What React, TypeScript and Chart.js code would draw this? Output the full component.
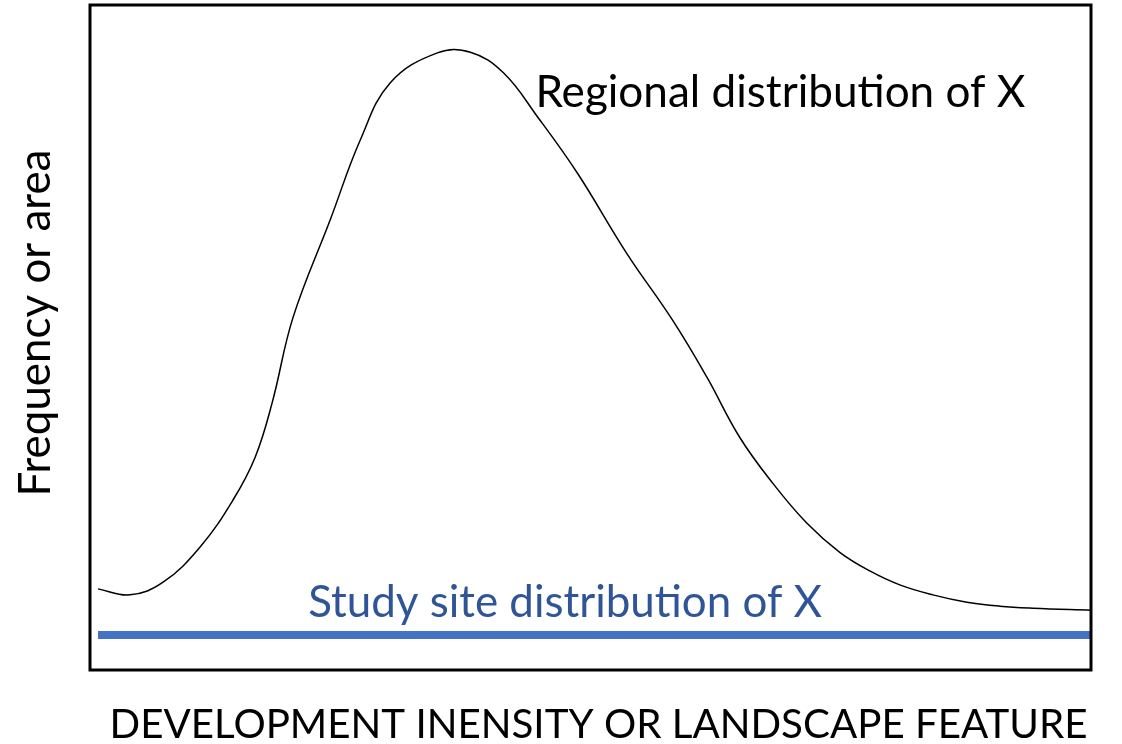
import React, { useEffect, useRef } from "react";
import { Chart, registerables } from "chart.js";

Chart.register(...registerables);

// Regional distribution curve (x: 0-100 development intensity, y: 0-100 relative frequency)
const regionalX = [0.8, 4.0, 7.3, 11.0, 14.3, 16.5, 18.2, 20.3, 24.0, 27.0, 30.0, 34.7, 38.0, 41.3, 44.7, 48.7, 53.6, 58.2, 61.6, 64.9, 68.2, 71.6, 74.9, 77.9, 80.9, 84.2, 87.6, 90.9, 94.2, 100];
const regionalY = [12.2, 11.3, 13.2, 18.5, 25.6, 32.0, 40.2, 53.1, 67.7, 79.7, 88.3, 92.8, 92.9, 89.8, 83.2, 74.7, 62.7, 52.6, 44.1, 35.0, 28.1, 22.1, 17.7, 14.9, 12.8, 11.3, 10.2, 9.6, 9.3, 9.0];

// Study site distribution (flat line)
const studyX = [0.8, 100];
const studyY = [5.26, 5.26];

const xTitle = "DEVELOPMENT INENSITY OR LANDSCAPE FEATURE";
const yTitle = "Frequency or area";
const regionalLabel = "Regional distribution of X";
const studyLabel = "Study site distribution of X";

const FONT = "Lato, 'Open Sans', sans-serif";

function fitFont(ctx: CanvasRenderingContext2D, text: string, target: number, base: number) {
  ctx.font = `${base}px ${FONT}`;
  const w = ctx.measureText(text).width;
  return (base * target) / w;
}

const textPlugin = {
  id: "textPlugin",
  afterDraw(chart: any) {
    const { ctx, chartArea, scales } = chart;
    ctx.save();
    // frame
    ctx.strokeStyle = "#000";
    ctx.lineWidth = 3;
    ctx.strokeRect(chartArea.left, chartArea.top, chartArea.right - chartArea.left, chartArea.bottom - chartArea.top);

    ctx.textBaseline = "alphabetic";
    ctx.textAlign = "left";
    // regional label
    let fs = fitFont(ctx, regionalLabel, 490, 40);
    ctx.font = `${fs}px ${FONT}`;
    ctx.fillStyle = "#000";
    ctx.fillText(regionalLabel, scales.x.getPixelForValue(44.5), scales.y.getPixelForValue(84.7));

    // study label
    fs = fitFont(ctx, studyLabel, 514, 40);
    ctx.font = `${fs}px ${FONT}`;
    ctx.fillStyle = "#2F5597";
    ctx.fillText(studyLabel, scales.x.getPixelForValue(21.8), scales.y.getPixelForValue(7.9));

    // x title
    ctx.textAlign = "center";
    fs = fitFont(ctx, xTitle, 978, 40);
    ctx.font = `${fs}px ${FONT}`;
    ctx.fillStyle = "#000";
    ctx.fillText(xTitle, (chartArea.left + chartArea.right) / 2 + 8, 738);

    // y title
    fs = fitFont(ctx, yTitle, 347, 40);
    ctx.font = `${fs}px ${FONT}`;
    ctx.translate(50, 323);
    ctx.rotate(-Math.PI / 2);
    ctx.fillText(yTitle, 0, 0);
    ctx.restore();
  },
};

export default function App() {
  const ref = useRef<HTMLCanvasElement | null>(null);
  useEffect(() => {
    if (!ref.current) return;
    const chart = new Chart(ref.current, {
      type: "line",
      data: {
        datasets: [
          {
            label: "Regional distribution of X",
            data: regionalX.map((x, i) => ({ x, y: regionalY[i] })),
            borderColor: "#000",
            borderWidth: 1.5,
            pointRadius: 0,
            tension: 0.4,
            fill: false,
          },
          {
            label: "Study site distribution of X",
            data: studyX.map((x, i) => ({ x, y: studyY[i] })),
            borderColor: "#4472C4",
            borderWidth: 8,
            pointRadius: 0,
            borderCapStyle: "butt",
            fill: false,
          },
        ],
      },
      options: {
        responsive: false,
        animation: false,
        layout: { padding: { left: 90, right: 31, top: 5, bottom: 74 } },
        plugins: { legend: { display: false }, tooltip: { enabled: false } },
        scales: {
          x: { type: "linear", min: 0, max: 100, display: false },
          y: { type: "linear", min: 0, max: 100, display: false },
        },
      },
      plugins: [textPlugin],
    });
    return () => chart.destroy();
  }, []);
  return (
    <div style={{ position: "absolute", left: 0, top: 0, width: 1122, height: 744, background: "#fff" }}>
      <canvas ref={ref} width={1122} height={744} />
    </div>
  );
}
